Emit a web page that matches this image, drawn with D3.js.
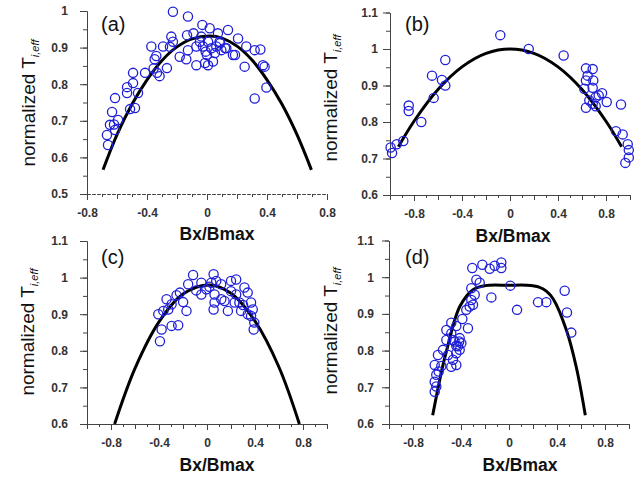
<!DOCTYPE html>
<html>
<head>
<meta charset="utf-8">
<script src="https://cdn.jsdelivr.net/npm/d3@7"></script>
<style>
  body { margin: 0; background: #fff; }
  svg { display: block; font-family: "Liberation Sans", Arial, sans-serif; }
  .tick text { font-size: 12px; font-weight: bold; fill: #333; }
  .tick line, .domain { stroke: #444; }
</style>
</head>
<body>
<svg id="chart" width="639" height="477"></svg>
<script>
// measured points, [Bx/Bmax, normalized T]
const pointsA = [
  [-0.227, 0.998], [-0.127, 0.985], [-0.031, 0.962], [0.018, 0.953], [0.073, 0.939], [0.140, 0.948],
  [-0.133, 0.934], [-0.238, 0.930], [-0.227, 0.916], [-0.293, 0.903], [-0.371, 0.903], [-0.338, 0.877],
  [-0.349, 0.868], [-0.182, 0.875], [-0.138, 0.868], [-0.127, 0.893], [-0.071, 0.903], [-0.071, 0.852],
  [-0.038, 0.930], [-0.027, 0.903], [-0.009, 0.889], [0.007, 0.852], [0.040, 0.862], [0.029, 0.898],
  [0.062, 0.903], [0.084, 0.916], [0.096, 0.893], [0.129, 0.898], [0.173, 0.880], [0.207, 0.925],
  [0.262, 0.903], [0.251, 0.848], [0.318, 0.893], [0.356, 0.895], [0.373, 0.852], [0.384, 0.848],
  [0.396, 0.791], [0.318, 0.761], [-0.090, 0.939], [-0.047, 0.916], [0.007, 0.916], [0.087, 0.912],
  [0.120, 0.899], [0.053, 0.885], [0.000, 0.880], [0.187, 0.880], [-0.013, 0.858], [-0.247, 0.902],
  [-0.413, 0.831], [-0.493, 0.831], [-0.333, 0.831], [-0.267, 0.844], [-0.356, 0.843], [-0.316, 0.822],
  [-0.533, 0.792], [-0.493, 0.803], [-0.533, 0.776], [-0.460, 0.776], [-0.613, 0.762], [-0.513, 0.732],
  [-0.480, 0.735], [-0.633, 0.724], [-0.593, 0.702], [-0.647, 0.689], [-0.620, 0.690], [-0.613, 0.675],
  [-0.667, 0.661], [-0.660, 0.634]
];
const pointsB = [
  [-0.081, 1.038], [0.156, 1.000], [0.447, 0.982], [-0.539, 0.970], [-0.650, 0.927], [-0.567, 0.915],
  [-0.539, 0.900], [-0.636, 0.866], [-0.844, 0.845], [-0.844, 0.830], [-0.739, 0.800], [-0.889, 0.748],
  [-0.944, 0.739], [-0.995, 0.730], [-0.983, 0.715], [0.633, 0.947], [0.689, 0.945], [0.647, 0.927],
  [0.633, 0.914], [0.694, 0.914], [0.619, 0.891], [0.689, 0.894], [0.661, 0.859], [0.739, 0.873],
  [0.767, 0.879], [0.806, 0.855], [0.714, 0.868], [0.633, 0.839], [0.689, 0.850], [0.714, 0.843],
  [0.925, 0.848], [0.883, 0.775], [0.939, 0.766], [0.981, 0.739], [0.990, 0.723], [0.990, 0.703],
  [0.961, 0.688]
];
const pointsC = [
  [-0.116, 1.007], [0.055, 1.009], [-0.157, 0.982], [-0.047, 0.986], [0.036, 0.986], [0.077, 0.991],
  [0.118, 0.982], [0.200, 0.991], [0.243, 0.995], [-0.226, 0.959], [-0.254, 0.952], [-0.199, 0.933],
  [-0.171, 0.909], [-0.240, 0.870], [-0.295, 0.868], [-0.392, 0.826], [-0.378, 0.858], [-0.337, 0.941],
  [-0.364, 0.909], [-0.406, 0.900], [-0.323, 0.913], [-0.295, 0.927], [-0.047, 0.954], [-0.006, 0.968],
  [0.063, 0.954], [0.119, 0.941], [0.063, 0.932], [0.055, 0.913], [0.174, 0.909], [0.146, 0.936],
  [0.200, 0.963], [0.243, 0.954], [0.270, 0.932], [0.284, 0.909], [0.339, 0.959], [0.312, 0.973],
  [0.367, 0.932], [0.381, 0.913], [0.367, 0.895], [0.394, 0.877], [0.389, 0.858], [0.340, 0.900],
  [0.300, 0.925], [0.230, 0.932], [0.020, 0.975], [-0.090, 0.965]
];
const pointsD = [
  [-0.306, 1.025], [-0.222, 1.034], [-0.161, 1.023], [-0.119, 1.031], [-0.064, 1.040], [-0.064, 1.025],
  [0.011, 0.977], [-0.147, 0.945], [0.067, 0.911], [0.242, 0.932], [0.311, 0.932], [0.464, 0.963],
  [0.483, 0.904], [0.519, 0.849], [-0.272, 0.993], [-0.244, 0.985], [-0.314, 0.970], [-0.286, 0.952],
  [-0.314, 0.938], [-0.300, 0.925], [-0.328, 0.920], [-0.356, 0.911], [-0.389, 0.886], [-0.342, 0.861],
  [-0.481, 0.876], [-0.439, 0.867], [-0.522, 0.856], [-0.481, 0.847], [-0.522, 0.829], [-0.467, 0.829],
  [-0.411, 0.834], [-0.397, 0.820], [-0.439, 0.813], [-0.550, 0.802], [-0.592, 0.788], [-0.508, 0.788],
  [-0.439, 0.793], [-0.467, 0.775], [-0.439, 0.761], [-0.481, 0.756], [-0.619, 0.761], [-0.564, 0.758],
  [-0.586, 0.743], [-0.606, 0.734], [-0.619, 0.715], [-0.606, 0.702], [-0.619, 0.688], [-0.411, 0.802],
  [-0.453, 0.825], [-0.425, 0.812], [-0.415, 0.825]
];

// fitted curves
const fitA = [[-0.693, 0.566], [-0.6, 0.662], [-0.5, 0.745], [-0.4, 0.812], [-0.3, 0.865], [-0.2, 0.902],
  [-0.1, 0.924], [0.02, 0.932], [0.1, 0.926], [0.2, 0.904], [0.3, 0.866], [0.4, 0.812], [0.5, 0.745],
  [0.6, 0.662], [0.696, 0.566]];
const fitB = [[-0.93, 0.732], [-0.8, 0.802], [-0.6, 0.889], [-0.4, 0.951], [-0.2, 0.988], [0, 1.0],
  [0.2, 0.988], [0.4, 0.951], [0.6, 0.889], [0.8, 0.802], [0.93, 0.732]];
const fitC = [[-0.77, 0.6], [-0.6, 0.752], [-0.4, 0.879], [-0.2, 0.955], [0.02, 0.98], [0.2, 0.957],
  [0.4, 0.881], [0.6, 0.755], [0.77, 0.6]];
const fitD = [[-0.636, 0.624], [-0.56, 0.747], [-0.52, 0.80], [-0.41, 0.92], [-0.3, 0.966], [-0.2, 0.977],
  [0, 0.978], [0.15, 0.978], [0.25, 0.973], [0.311, 0.962], [0.37, 0.94], [0.478, 0.856], [0.56, 0.756],
  [0.636, 0.624]];

const xLabels = [-0.8, -0.4, 0, 0.4, 0.8];
const yLabelsA = [0.5, 0.6, 0.7, 0.8, 0.9, 1];
const yLabelsB = [0.6, 0.7, 0.8, 0.9, 1, 1.1];

const panels = [
  { tag: "(a)", pts: pointsA, fit: fitA, xDom: [-0.8, 0.8], yDom: [0.5, 1], yLabels: yLabelsA,
    x0: 87, x1: 327, y0: 194, y1: 11, yPad: 12, dashed: true,
    tagPos: [101, 31], yTitle: [35, 103], xTitle: [217, 240] },
  { tag: "(b)", pts: pointsB, fit: fitB, xDom: [-1, 1], yDom: [0.6, 1.1], yLabels: yLabelsB,
    x0: 390, x1: 630, y0: 195, y1: 12.5, yPad: 5,
    tagPos: [405, 31], yTitle: [337, 98], xTitle: [513, 242] },
  { tag: "(c)", pts: pointsC, fit: fitC, xDom: [-1, 1], yDom: [0.6, 1.1], yLabels: yLabelsB,
    x0: 87, x1: 327, y0: 424, y1: 241, yPad: 12,
    tagPos: [101, 264], yTitle: [34, 332], xTitle: [217, 471] },
  { tag: "(d)", pts: pointsD, fit: fitD, xDom: [-1, 1], yDom: [0.6, 1.1], yLabels: yLabelsB,
    x0: 389, x1: 629, y0: 424, y1: 240.5, yPad: 8,
    tagPos: [405, 264], yTitle: [337, 331], xTitle: [520, 471] }
];

const svg = d3.select("#chart");
const fmt = d => String(+d.toFixed(2));

function drawPanel(p) {
  const x = d3.scaleLinear().domain(p.xDom).range([p.x0, p.x1]);
  const y = d3.scaleLinear().domain(p.yDom).range([p.y0, p.y1]);
  const g = svg.append("g");

  // minor ticks
  const xMinor = d3.range(Math.round(p.xDom[0] * 10), Math.round(p.xDom[1] * 10) + 1).map(v => v / 10);
  const yMinor = d3.range(Math.round(p.yDom[0] * 20), Math.round(p.yDom[1] * 20) + 1).map(v => v / 20);

  g.append("g").attr("transform", `translate(0,${p.y0})`)
    .call(d3.axisBottom(x).tickValues(xMinor).tickSize(3).tickSizeOuter(0).tickFormat(""));
  g.append("g").attr("transform", `translate(0,${p.y0})`)
    .call(d3.axisBottom(x).tickValues(xMinor.filter(v => Math.round(v * 10) % 2 === 0))
      .tickSize(5).tickSizeOuter(0).tickFormat(""));
  const xa = g.append("g").attr("transform", `translate(0,${p.y0})`)
    .call(d3.axisBottom(x).tickValues(xLabels).tickSize(6).tickPadding(8).tickSizeOuter(0).tickFormat(fmt));
  if (p.dashed) g.selectAll(".domain").attr("stroke-dasharray", "3,2").attr("stroke", "#666");

  g.append("g").attr("transform", `translate(${p.x0},0)`)
    .call(d3.axisLeft(y).tickValues(yMinor).tickSize(4).tickSizeOuter(0).tickFormat(""));
  g.append("g").attr("transform", `translate(${p.x0},0)`)
    .call(d3.axisLeft(y).tickValues(p.yLabels).tickSize(7).tickPadding(p.yPad).tickSizeOuter(0).tickFormat(fmt));

  // fit curve
  g.append("path")
    .datum(p.fit)
    .attr("fill", "none")
    .attr("stroke", "#000")
    .attr("stroke-width", 3)
    .attr("d", d3.line().x(d => x(d[0])).y(d => y(d[1])).curve(d3.curveCatmullRom));

  // data
  g.selectAll("circle.pt").data(p.pts).join("circle")
    .attr("class", "pt")
    .attr("cx", d => x(d[0]))
    .attr("cy", d => y(d[1]))
    .attr("r", 4.6)
    .attr("fill", "none")
    .attr("stroke", "#1f1fd8")
    .attr("stroke-width", 1.3);

  g.append("text")
    .attr("x", p.tagPos[0]).attr("y", p.tagPos[1])
    .attr("font-size", 20)
    .attr("fill", "#111")
    .text(p.tag);

  const yt = g.append("text")
    .attr("transform", `translate(${p.yTitle[0]},${p.yTitle[1]}) rotate(-90)`)
    .attr("text-anchor", "middle")
    .attr("font-size", 19)
    .attr("fill", "#111");
  yt.append("tspan").text("normalized T");
  yt.append("tspan").attr("dy", 4).attr("font-size", 11).attr("font-style", "italic").text("i,eff");

  g.append("text")
    .attr("x", p.xTitle[0]).attr("y", p.xTitle[1])
    .attr("text-anchor", "middle")
    .attr("font-size", 17.5)
    .attr("font-weight", "bold")
    .attr("fill", "#111")
    .text("Bx/Bmax");
}

panels.forEach(drawPanel);
</script>
</body>
</html>
